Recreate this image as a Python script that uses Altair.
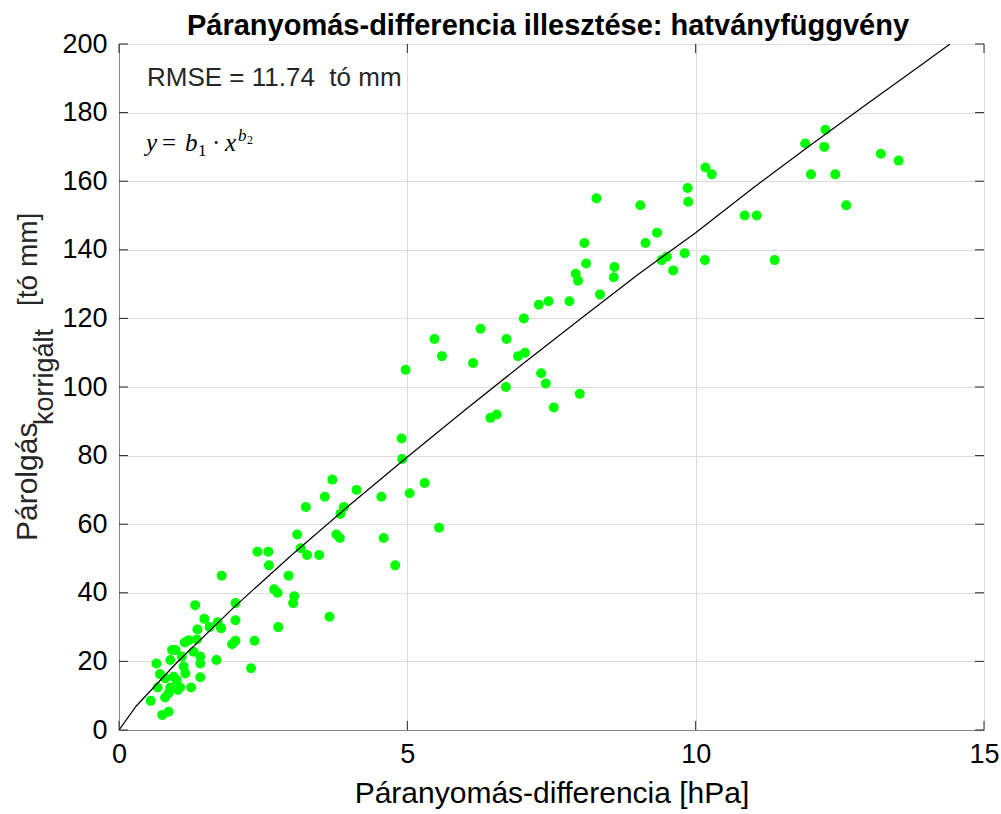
import altair as alt
import pandas as pd

# --- data ---
dp_x = [13.52, 13.21, 12.61, 12.42, 12.25, 12.23, 12.00, 11.90, 11.37, 11.06,
        10.85, 10.28, 10.17, 10.16, 9.87, 9.86, 9.81, 9.61, 9.50, 9.41,
        9.33, 9.13, 9.04, 8.59, 8.58, 8.34, 8.28, 8.10, 8.07, 7.99,
        7.96, 7.92, 7.81, 7.54, 7.45, 7.40, 7.32, 7.28, 7.04, 7.02,
        6.92, 6.72, 6.71, 6.55, 6.44, 6.27, 6.14, 5.60, 5.55, 5.47,
        5.30, 5.04, 4.97, 4.91, 4.90, 4.79, 4.59, 4.55, 4.12, 3.90,
        3.84, 3.83, 3.77, 3.70, 3.65, 3.57, 3.47, 3.26, 3.24, 3.15,
        3.09, 3.04, 3.02, 2.94, 2.76, 2.75, 2.69, 2.60, 2.59, 2.40,
        2.35, 2.29, 2.02, 2.02, 2.02, 1.96, 1.78, 1.77, 1.71, 1.69,
        1.57, 1.48, 1.41, 1.41, 1.41, 1.36, 1.35, 1.32, 1.29, 1.25,
        1.21, 1.14, 1.15, 1.12, 1.09, 1.06, 1.02, 1.00, 0.98, 0.92,
        0.95, 0.89, 0.89, 0.86, 0.86, 0.80, 0.80, 0.75, 0.71, 0.67,
        0.65, 0.55]
evap_y = [166, 168, 153, 162, 175, 170, 162, 171, 137, 150,
          150, 162, 164, 137, 154, 158, 139, 134, 138, 137,
          145, 142, 153, 135, 132, 127, 155, 136, 142, 98,
          131, 133, 125, 94, 125, 101, 104, 124, 110, 120,
          109, 114, 100, 92, 91, 117, 107, 109, 59, 114,
          72, 69, 105, 79, 85, 48, 56, 68, 70, 65,
          63, 56, 57, 73, 33, 68, 51, 51, 65, 53,
          57, 39, 37, 45, 30, 40, 41, 48, 52, 52,
          26, 18, 37, 32, 26, 25, 45, 29.7, 31.4, 20.4,
          30, 32.4, 21.4, 19.4, 15.4, 29.3, 26.4, 36.4, 22.8, 12.4,
          26.2, 25.5, 16.5, 18.5, 21.4, 12.4, 11.7, 14.6, 23.3, 23.3,
          15.5, 20.4, 12.4, 10.7, 5.3, 15.1, 9.5, 4.4, 16.3, 12.4,
          19.4, 8.5]

# fitted curve
fit_x = [0, 0.3, 1, 2, 3, 4, 5, 6, 7, 8, 9, 10, 11, 12, 13, 14, 14.41]
fit_y = [0, 7, 19.6, 35.9, 51.1, 65.6, 79.6, 93.3, 106.7, 119.8, 132.8,
         145.0, 158.1, 170.6, 182.9, 195.0, 200]

x_ticks = [0, 5, 10, 15]
y_ticks = [0, 20, 40, 60, 80, 100, 120, 140, 160, 180, 200]

W, H = 865, 686
FONT = "Liberation Sans"
SERIF = "Liberation Serif"
DARK = "#262626"

pts = pd.DataFrame({"x": dp_x, "y": evap_y})
fit = pd.DataFrame({"x": fit_x, "y": fit_y})
xt = pd.DataFrame({"v": x_ticks})
yt = pd.DataFrame({"v": y_ticks})

xs = alt.Scale(domain=[0, 15], nice=False, zero=False)
ys = alt.Scale(domain=[0, 200], nice=False, zero=False)

xaxis = alt.Axis(values=x_ticks, title="Páranyomás-differencia [hPa]", ticks=False,
                 labelFontSize=27, titleFontSize=30, labelPadding=11, titlePadding=11,
                 titleFontWeight="normal", labelFlush=False, grid=True, format="d")
yaxis = alt.Axis(values=y_ticks, title=None, ticks=False, labelFontSize=27,
                 labelPadding=12, labelFlush=False, grid=True, format="d")

X = alt.X("x:Q", scale=xs, axis=xaxis)
Y = alt.Y("y:Q", scale=ys, axis=yaxis)

points = alt.Chart(pts).mark_circle(size=100, color="#00ff00", opacity=1).encode(x=X, y=Y)
line = alt.Chart(fit).mark_line(color="black", strokeWidth=1.2, clip=True).encode(x=X, y=Y)

TL = 9
tick_b = alt.Chart(xt).mark_rule(color=DARK, strokeWidth=1).encode(
    x=alt.X("v:Q", scale=xs, axis=xaxis), y=alt.value(H), y2=alt.value(H - TL))
tick_t = alt.Chart(xt).mark_rule(color=DARK, strokeWidth=1).encode(
    x=alt.X("v:Q", scale=xs, axis=xaxis), y=alt.value(0), y2=alt.value(TL))
tick_l = alt.Chart(yt).mark_rule(color=DARK, strokeWidth=1).encode(
    y=alt.Y("v:Q", scale=ys, axis=yaxis), x=alt.value(0), x2=alt.value(TL))
tick_r = alt.Chart(yt).mark_rule(color=DARK, strokeWidth=1).encode(
    y=alt.Y("v:Q", scale=ys, axis=yaxis), x=alt.value(W), x2=alt.value(W - TL))

def txt(s, x, y, size, angle=0, style="normal", font=FONT, align="left",
        color=DARK, weight="normal"):
    return alt.Chart(pd.DataFrame({"t": [s]})).mark_text(
        align=align, baseline="alphabetic", fontSize=size, font=font, fontStyle=style,
        fontWeight=weight, angle=angle, color=color).encode(
        text="t:N", x=alt.value(x), y=alt.value(y))

OX, OY = 119, 44
annots = [
    txt("Páranyomás-differencia illesztése: hatványfüggvény", 548 - OX, 35 - OY, 29,
        align="center", color="black", weight="bold"),
    txt("RMSE = 11.74\u00a0\u00a0tó mm", 147 - OX, 86 - OY, 26),
    # equation y = b1 · x^b2
    txt("y", 146 - OX, 151 - OY, 25, style="italic", font=SERIF, color="black"),
    txt("=", 162 - OX, 151 - OY, 25, font=SERIF, color="black"),
    txt("b", 185 - OX, 151 - OY, 25, style="italic", font=SERIF, color="black"),
    txt("1", 198 - OX, 156 - OY, 17, font=SERIF, color="black"),
    txt("·", 212 - OX, 151 - OY, 25, font=SERIF, color="black"),
    txt("x", 225 - OX, 151 - OY, 25, style="italic", font=SERIF, color="black"),
    txt("b", 238 - OX, 141 - OY, 17, style="italic", font=SERIF, color="black"),
    txt("2", 247 - OX, 144 - OY, 12, font=SERIF, color="black"),
    # y-axis title with subscript
    txt("Párolgás", 37 - OX, 541 - OY, 30, angle=270),
    txt("korrigált", 53 - OX, 425 - OY, 27, angle=270),
    txt("[tó mm]", 37 - OX, 306 - OY, 28, angle=270),
]

chart = alt.layer(points, line, tick_b, tick_t, tick_l, tick_r, *annots).properties(
    width=W, height=H,
    autosize=alt.AutoSizeParams(type="none"),
    padding={"left": OX, "top": OY, "right": 1001 - OX - W, "bottom": 814 - OY - H},
).configure_view(stroke=DARK, strokeWidth=1).configure_axis(
    domainColor=DARK, labelColor=DARK, titleColor=DARK, gridColor="#e0e0e0",
    labelFont=FONT, titleFont=FONT, titleFontWeight="normal", domainWidth=1,
).configure(background="white")

chart.save("out.html", embed_options={"renderer": "svg", "actions": False})
